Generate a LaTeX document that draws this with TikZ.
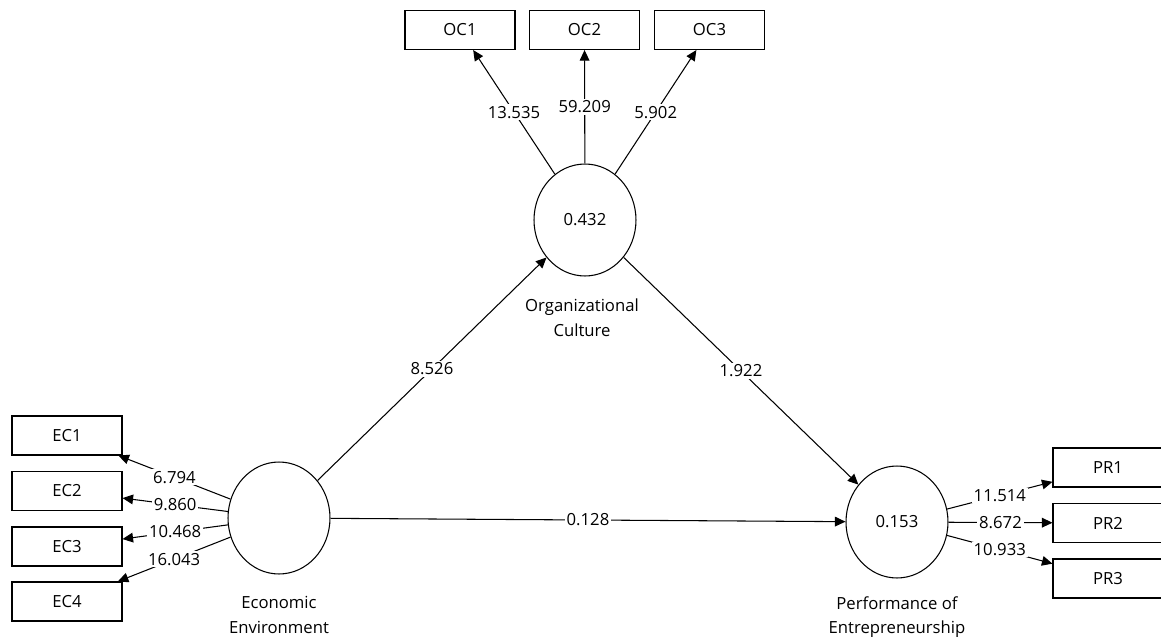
\documentclass[tikz,border=0pt]{standalone}
\usepackage{fontspec}
\setmainfont{Open Sans}
\usetikzlibrary{arrows.meta,shapes.geometric}

\tikzset{
  ind/.style={draw, minimum width=2.2cm, minimum height=0.78cm, inner sep=0pt},
  lv/.style={draw, ellipse, minimum width=2.04cm, minimum height=2.24cm, inner sep=0pt},
  arr/.style={-{Triangle[length=6pt,width=5.5pt]}},
  coef/.style={fill=white, inner sep=1pt},
  lvname/.style={align=center},
}

\begin{document}
\begin{tikzpicture}[x=0.02cm,y=-0.02cm,line width=0.6pt,font=\fontsize{9.5}{14}\selectfont]
\clip (0,0) rectangle (1161,643);

% latent variables
\node[lv] (ee) at (279,518) {};
\node[lv] (oc) at (585,220) {0.432};
\node[lv] (pe) at (897,522) {0.153};
\node[lvname] (eename) at (279,615) {Economic\\Environment};
\node[lvname] (ocname) at (582,318) {Organizational\\Culture};
\node[lvname] (pename) at (897,617) {Performance of\\Entrepreneurship};

% indicators
\node[ind] (ec1) at (67,435.5) {EC1};
\node[ind] (ec2) at (67,491) {EC2};
\node[ind] (ec3) at (67,546.5) {EC3};
\node[ind] (ec4) at (67,601.5) {EC4};
\node[ind] (oc1) at (460,30) {OC1};
\node[ind] (oc2) at (584.5,30) {OC2};
\node[ind] (oc3) at (709.5,30) {OC3};
\node[ind] (pr1) at (1108,467.5) {PR1};
\node[ind] (pr2) at (1108,523) {PR2};
\node[ind] (pr3) at (1108,578.5) {PR3};

% outer loadings
\draw[arr] (ee) -- node[coef] {6.794} (ec1);
\draw[arr] (ee) -- node[coef] {9.860} (ec2);
\draw[arr] (ee) -- node[coef] {10.468} (ec3);
\draw[arr] (ee) -- node[coef] {16.043} (ec4);
\draw[arr] (oc) -- node[coef] {13.535} (oc1);
\draw[arr] (oc) -- node[coef] {59.209} (oc2);
\draw[arr] (oc) -- node[coef] {5.902} (oc3);
\draw[arr] (pe) -- node[coef] {11.514} (pr1);
\draw[arr] (pe) -- node[coef] {8.672} (pr2);
\draw[arr] (pe) -- node[coef] {10.933} (pr3);

% path coefficients
\draw[arr] (ee) -- node[coef] {8.526} (oc);
\draw[arr] (oc) -- node[coef] {1.922} (pe);
\draw[arr] (ee) -- node[coef] {0.128} (pe);
\end{tikzpicture}
\end{document}
